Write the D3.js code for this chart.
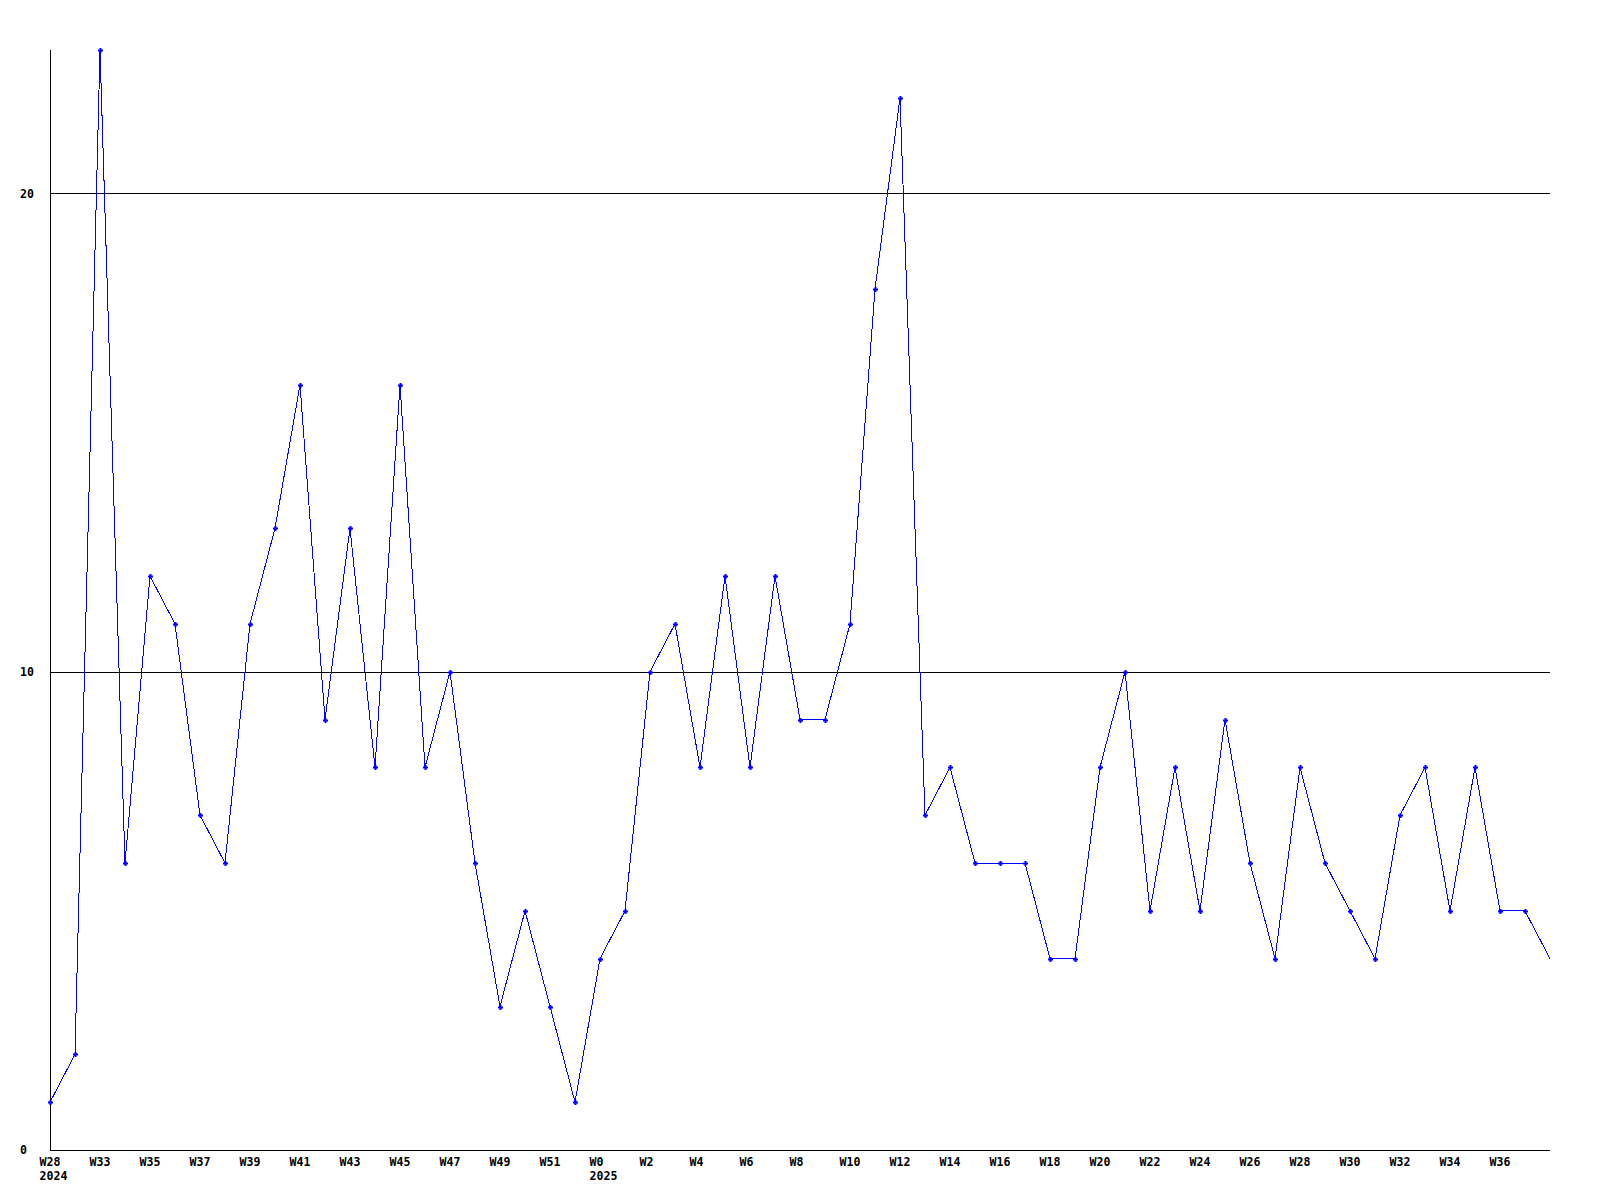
<!DOCTYPE html>
<html>
<head>
<meta charset="utf-8">
<script src="https://cdn.jsdelivr.net/npm/d3@7"></script>
<style>
  body { margin:0; background:white; }
  svg text { font-family:"DejaVu Sans Mono", monospace; font-weight:bold; font-size:11.6px; fill:black; }
</style>
</head>
<body>
<svg id="chart"></svg>
<script>
var weeks = ["W28","W32","W33","W34","W35","W36","W37","W38","W39","W40","W41","W42","W43","W44","W45","W46","W47","W48","W49","W50","W51","W52",
             "W0","W1","W2","W3","W4","W5","W6","W7","W8","W9","W10","W11","W12","W13","W14","W15","W16","W17","W18","W19",
             "W20","W21","W22","W23","W24","W25","W26","W27","W28","W29","W30","W31","W32","W33","W34","W35","W36","W37","W38"];
var years = ["2024","","","","","","","","","","","","","","","","","","","","","",
             "2025","","","","","","","","","","","","","","","","","","","",
             "","","","","","","","","","","","","","","","","","","",""];
var counts = [1,2,23,6,12,11,7,6,11,13,16,9,13,8,16,8,10,6,3,5,3,1,
              4,5,10,11,8,12,8,12,9,9,11,18,22,7,8,6,6,6,4,4,
              8,10,5,8,5,9,6,4,8,6,5,4,7,8,5,8,5,5,4];
var yTicks = [0,10,20];

var width = 1600, height = 1200;
var margin = {top:50, right:50, bottom:50, left:50};

var svg = d3.select("#chart").attr("width", width).attr("height", height);

var idx = d3.range(counts.length);
var x = d3.scaleLinear().domain([0, counts.length-1]).range([margin.left, width-margin.right]);
var y = d3.scaleLinear().domain([0, 23]).range([height-margin.bottom, margin.top]);

// grid lines
svg.selectAll("line.grid")
  .data(yTicks.filter(d=>d>0))
  .enter().append("line")
  .attr("class","grid")
  .attr("x1", margin.left).attr("x2", width-margin.right)
  .attr("y1", d=>Math.round(y(d))+0.5).attr("y2", d=>Math.round(y(d))+0.5)
  .attr("stroke","black").attr("stroke-width",1);

// axes
svg.append("line")
  .attr("x1", margin.left+0.5).attr("x2", margin.left+0.5)
  .attr("y1", margin.top).attr("y2", height-margin.bottom)
  .attr("stroke","black");
svg.append("line")
  .attr("x1", margin.left).attr("x2", width-margin.right)
  .attr("y1", height-margin.bottom+0.5).attr("y2", height-margin.bottom+0.5)
  .attr("stroke","black");

// y labels
svg.selectAll("text.ylab")
  .data(yTicks)
  .enter().append("text")
  .attr("class","ylab")
  .attr("x", 20)
  .attr("y", d=>y(d))
  .attr("dy","0.35em")
  .text(d=>d);

// x labels, every second week (all start at tick - 10.5)
var xl = svg.selectAll("g.xlab")
  .data(idx.filter(i=>i%2==0 && i<counts.length-1))
  .enter().append("g")
  .attr("class","xlab")
  .attr("transform", i=>"translate(" + (x(i)-10.5) + ",0)");
xl.append("text")
  .attr("y", 1162).attr("dy","0.35em")
  .text(i=>weeks[i]);
xl.filter(i=>years[i]!="").append("text")
  .attr("y", 1176).attr("dy","0.35em")
  .text(i=>years[i]);

// series
var line = d3.line().x(i=>x(i)).y(i=>y(counts[i]));
svg.append("path")
  .datum(idx)
  .attr("d", line)
  .attr("fill","none")
  .attr("stroke","#0000ff")
  .attr("stroke-width",1)
  .attr("shape-rendering","crispEdges");

svg.selectAll("path.mark")
  .data(idx.filter(i=>i<counts.length-1))
  .enter().append("path")
  .attr("class","mark")
  .attr("d", i=>{
    var cx = Math.round(x(i))+0.5, cy = Math.round(y(counts[i]))+0.5;
    return "M"+(cx-2.5)+","+cy+"H"+(cx+2.5)+"M"+cx+","+(cy-2.5)+"V"+(cy+2.5);
  })
  .attr("stroke","#0000ff")
  .attr("stroke-width",2);
</script>
</body>
</html>
